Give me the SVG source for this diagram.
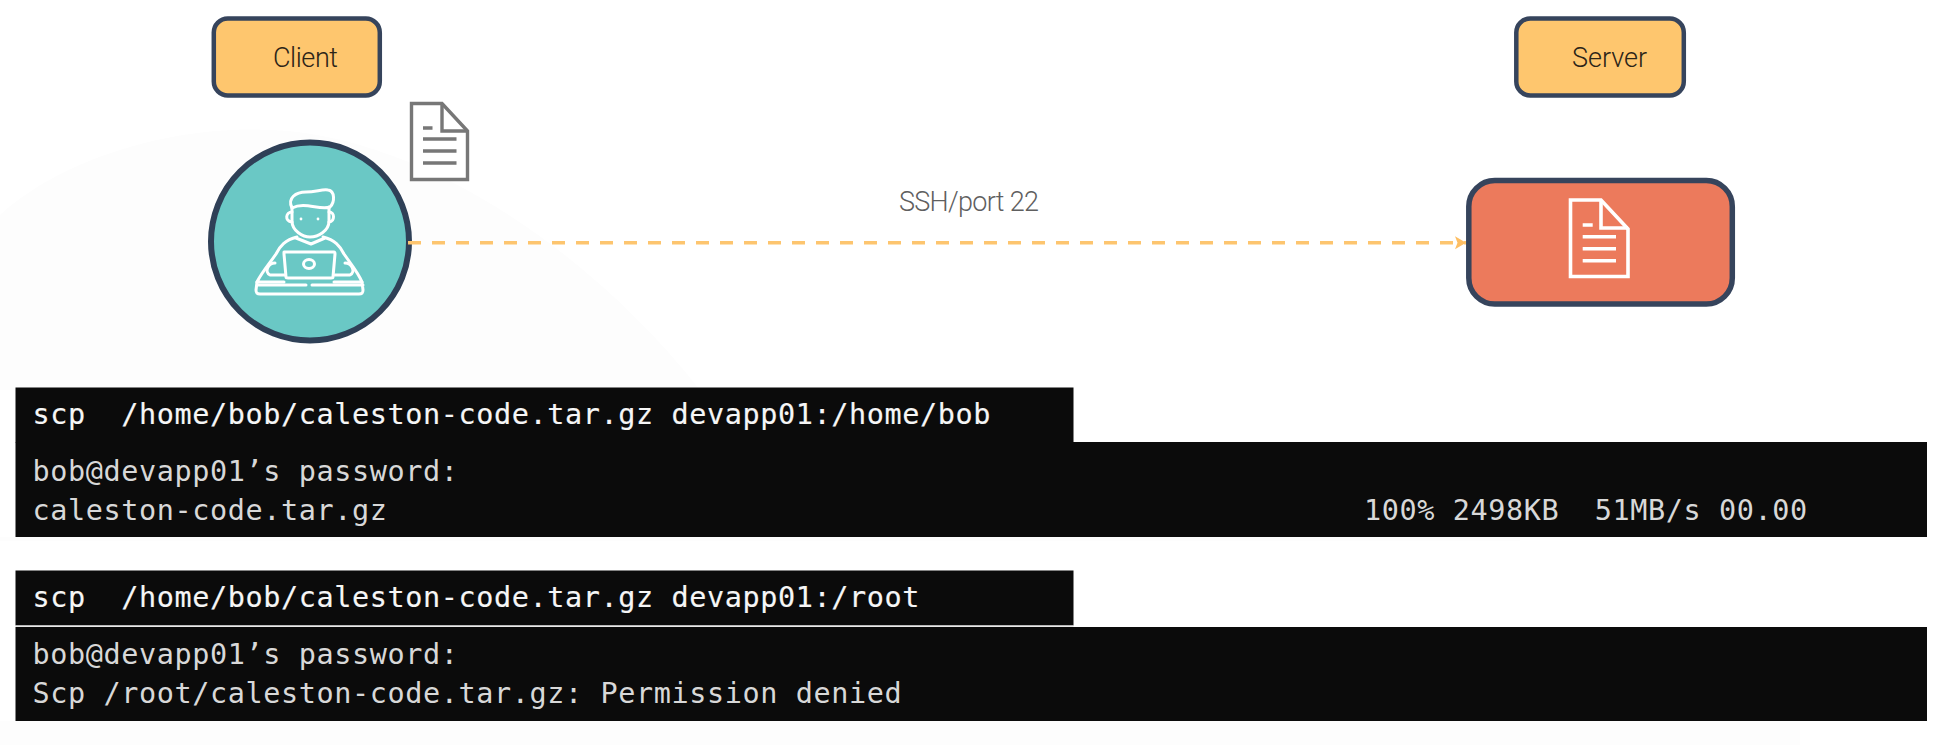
<svg xmlns="http://www.w3.org/2000/svg" width="1939" height="745" viewBox="0 0 1939 745">
<style>
.term{font-family:"DejaVu Sans Mono",monospace;font-size:28.5px;letter-spacing:.59px;white-space:pre}
.cmd{fill:#f6f6f6;stroke:#f6f6f6;stroke-width:.15}
.out{fill:#d8d8d8}
.tbox{fill:#0b0b0b}
.lbl{font-family:"Roboto","Open Sans",sans-serif;font-weight:300;font-size:27px;fill:#2c2418}
.tag{fill:#fec66e;stroke:#36445c;stroke-width:4.5}
.ico{fill:none;stroke:#fff;stroke-width:3;stroke-linecap:round;stroke-linejoin:round}
</style>
<defs>
<marker id="ah" markerUnits="userSpaceOnUse" markerWidth="14" markerHeight="16" refX="11" refY="8" orient="auto"><path d="M0 1.5L11 8L0 14.5L2.5 8Z" fill="#fdbe63"/></marker>
</defs>
<rect width="1939" height="745" fill="#fff"/>
<path d="M0 215C60 160 170 125 270 130C420 135 590 250 700 390L0 390Z" fill="#fdfdfd"/>
<path d="M0 537H1520V541H0ZM0 721H1800V745H0Z" fill="#fdfdfd"/>
<g id="edge-label"><text x="899" y="211" font-family="Roboto,'Open Sans',sans-serif" font-weight="300" font-size="27" fill="#5f5f5f" textLength="140">SSH/port 22</text></g>
<g id="client-tag">
<rect class="tag" x="213.8" y="18.5" width="166" height="77" rx="14"/>
<text class="lbl" x="273" y="67" textLength="65">Client</text>
</g>
<g id="server-tag">
<rect class="tag" x="1516.3" y="18.5" width="167.5" height="77" rx="14"/>
<text class="lbl" x="1572" y="67" textLength="75">Server</text>
</g>
<g id="client-file">
<path d="M411.5 103.5H442L467.5 131V179.5H411.5Z" fill="#fff" stroke="#777" stroke-width="3.4"/>
<path d="M442 103.5V131H467.5M423 128H432.5M423 139H456.5M423 151H456.5M423 163H456.5" fill="none" stroke="#777" stroke-width="3.4"/>
</g>
<g id="client">
<circle cx="310" cy="241.5" r="99" fill="#6ac8c5" stroke="#2f4057" stroke-width="6"/>
<path class="ico" d="M292 208C287 198 296 192 306 192C316 192 322 189 328 190C335 191 335 202 330 207C320 211 305 201 292 208Z"/>
<path class="ico" d="M292 207V221C292 231 303 237 310 237C318 237 329 231 329 221V207"/>
<path class="ico" d="M292 212C286 212 284 221 292 222M329 212C335 212 335 221 329 222"/>
<path class="ico" d="M296 238L311 244L325 238M297 237C285 240 280 246 276 254C270 263 262 272 257 282H284M323 237C335 240 340 246 344 254C350 263 358 272 362 282H334"/>
<path class="ico" d="M284 252H334C335 252 335 253 335 254L333 277C333 278 332 278 331 278H288C287 278 286 278 286 277L284 254C284 253 284 252 284 252Z"/>
<ellipse class="ico" cx="309" cy="264" rx="5.5" ry="4.5"/>
<path class="ico" d="M275 263C268 263 264 272 270 275H285M345 263C352 263 356 272 350 275H335"/>
<path class="ico" d="M257 282L256 290C256 293 257 294 260 294H359C362 294 363 293 363 290L362 282M257 285H306M312 285H363"/>
<circle cx="301" cy="219" r="1.4" fill="#fff"/><circle cx="318" cy="219" r="1.4" fill="#fff"/>
</g>
<g id="server">
<rect x="1468.8" y="180.5" width="263.5" height="123.5" rx="26" fill="#ec7a5c" stroke="#36445c" stroke-width="5.5"/>
<path d="M1570.5 200H1601L1628 229V276.5H1570.5Z" fill="none" stroke="#fff" stroke-width="3.6"/>
<path d="M1601 200V228H1628M1582.7 225H1592.7M1582.7 236.7H1616M1582.7 248.7H1616M1582.7 260.7H1616" fill="none" stroke="#fff" stroke-width="3.6"/>
</g>
<g id="connectors">
<path d="M408 242.7H1466" fill="none" stroke="#fdc56f" stroke-width="3.6" stroke-dasharray="13 11" marker-end="url(#ah)"/>
</g>
<g id="terminal-1">
<rect class="tbox" x="15.5" y="387.5" width="1058" height="55"/>
<rect class="tbox" x="15.5" y="442" width="1911.5" height="95"/>
<text class="term cmd" x="32.5" y="424">scp  /home/bob/caleston-code.tar.gz devapp01:/home/bob</text>
<text class="term out" x="32.5" y="481">bob@devapp01’s password:</text>
<text class="term out" x="32.5" y="520">caleston-code.tar.gz</text>
<text class="term out" x="1364" y="520">100% 2498KB  51MB/s 00.00</text>
</g>
<g id="terminal-2">
<rect class="tbox" x="15.5" y="570.5" width="1058" height="55"/>
<rect x="15.5" y="625.5" width="1058" height="1.5" fill="#e8e8e8"/>
<rect class="tbox" x="15.5" y="627" width="1911.5" height="94"/>
<text class="term cmd" x="32.5" y="607">scp  /home/bob/caleston-code.tar.gz devapp01:/root</text>
<text class="term out" x="32.5" y="664">bob@devapp01’s password:</text>
<text class="term out" x="32.5" y="703">Scp /root/caleston-code.tar.gz: Permission denied</text>
</g>
</svg>
